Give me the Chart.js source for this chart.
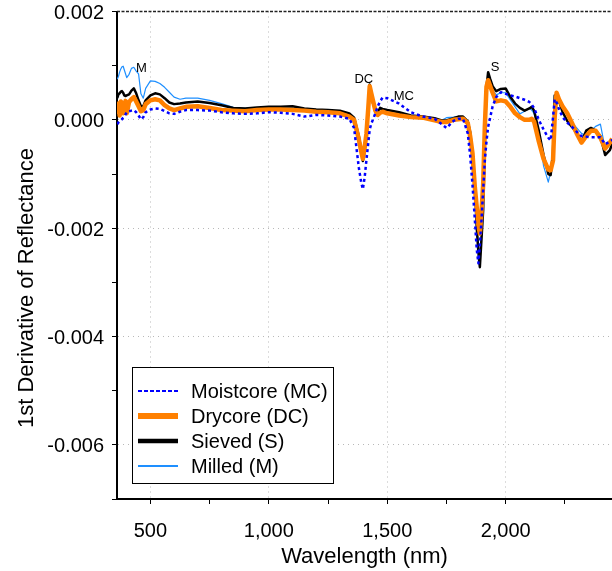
<!DOCTYPE html>
<html>
<head>
<meta charset="utf-8">
<script src="https://cdn.jsdelivr.net/npm/chart.js@4.4.0/dist/chart.umd.min.js"></script>
<style>
  html, body { margin: 0; padding: 0; background: #fff; }
  #wrap { width: 612px; height: 571px; }
</style>
</head>
<body>
<div id="wrap"><canvas id="spectra" width="612" height="571"></canvas></div>
<script>
// wavelength grid (nm) shared by all four preparations
const wavelength = [
  360, 365, 370, 375, 380, 385, 390, 395, 400, 410,
  420, 430, 440, 450, 460, 470, 480, 500, 520, 540,
  560, 580, 600, 625, 650, 700, 750, 800, 850, 900,
  950, 1000, 1050, 1100, 1150, 1200, 1250, 1300, 1340, 1360,
  1380, 1390, 1397, 1405, 1412, 1420, 1426, 1432, 1440, 1450,
  1460, 1470, 1480, 1500, 1550, 1600, 1650, 1700, 1730, 1750,
  1780, 1800, 1820, 1840, 1850, 1860, 1870, 1878, 1885, 1891,
  1898, 1905, 1912, 1919, 1926, 1935, 1945, 1960, 1980, 2000,
  2020, 2040, 2060, 2080, 2100, 2110, 2120, 2140, 2160, 2180,
  2190, 2200, 2207, 2215, 2225, 2240, 2260, 2280, 2300, 2320,
  2340, 2360, 2380, 2400, 2420, 2440, 2450
];

// first derivative of reflectance, in units of 1e-3
const moistcore = [
  -0.08, -0.05, -0.03, -0.01, 0.01, 0.04, 0.06, 0.10, 0.14, 0.16,
  0.17, 0.18, 0.14, 0.08, 0.01, 0.05, 0.14, 0.19, 0.21, 0.20,
  0.16, 0.12, 0.11, 0.15, 0.18, 0.18, 0.17, 0.14, 0.12, 0.11,
  0.12, 0.14, 0.13, 0.11, 0.06, 0.09, 0.08, 0.06, 0.02, -0.15,
  -0.88, -1.15, -1.28, -1.05, -0.75, -0.42, -0.18, -0.08, 0.01, 0.12,
  0.25, 0.34, 0.41, 0.40, 0.30, 0.14, 0.06, 0.02, -0.08, -0.15,
  -0.02, 0.02, 0.02, -0.25, -0.65, -1.20, -1.85, -2.40, -2.65, -2.30,
  -1.85, -1.30, -0.75, -0.40, -0.13, 0.05, 0.25, 0.42, 0.51, 0.48,
  0.45, 0.43, 0.40, 0.37, 0.33, 0.28, 0.22, 0.00, -0.18, -0.33,
  -0.38, 0.05, 0.38, 0.32, 0.20, 0.05, -0.05, -0.13, -0.22, -0.30,
  -0.31, -0.32, -0.32, -0.32, -0.45, -0.40, -0.37
];
const drycore = [
  0.10, 0.30, 0.08, 0.34, 0.30, 0.12, 0.22, 0.35, 0.12, 0.33,
  0.38, 0.42, 0.34, 0.25, 0.16, 0.18, 0.29, 0.36, 0.38, 0.36,
  0.27, 0.21, 0.18, 0.21, 0.24, 0.25, 0.22, 0.18, 0.17, 0.16,
  0.18, 0.19, 0.19, 0.18, 0.17, 0.15, 0.14, 0.12, 0.06, 0.00,
  -0.36, -0.58, -0.72, -0.50, -0.26, 0.22, 0.62, 0.50, 0.35, 0.17,
  0.09, 0.13, 0.15, 0.12, 0.08, 0.05, 0.04, -0.01, -0.04, -0.04,
  0.00, 0.01, 0.02, -0.06, -0.30, -0.62, -1.25, -1.62, -1.95, -2.10,
  -1.70, -1.20, -0.13, 0.61, 0.73, 0.62, 0.50, 0.34, 0.36, 0.34,
  0.24, 0.12, 0.05, 0.00, 0.00, 0.02, -0.03, -0.40, -0.72, -0.92,
  -0.93, -0.75, 0.05, 0.50, 0.38, 0.25, 0.12, -0.06, -0.25, -0.42,
  -0.30, -0.20, -0.20, -0.33, -0.53, -0.42, -0.35
];
const sieved = [
  0.40, 0.47, 0.49, 0.52, 0.53, 0.50, 0.45, 0.44, 0.45, 0.47,
  0.54, 0.58, 0.49, 0.36, 0.25, 0.25, 0.36, 0.45, 0.49, 0.47,
  0.40, 0.32, 0.29, 0.30, 0.32, 0.34, 0.31, 0.27, 0.22, 0.21,
  0.23, 0.24, 0.24, 0.25, 0.21, 0.19, 0.18, 0.17, 0.12, 0.04,
  -0.30, -0.55, -0.76, -0.55, -0.26, 0.25, 0.65, 0.50, 0.30, 0.20,
  0.14, 0.22, 0.20, 0.18, 0.14, 0.08, 0.06, 0.03, -0.01, -0.01,
  0.03, 0.06, 0.06, -0.03, -0.22, -0.65, -1.24, -2.00, -2.45, -2.72,
  -2.20, -1.67, -0.44, 0.61, 0.88, 0.75, 0.62, 0.53, 0.57, 0.58,
  0.42, 0.30, 0.22, 0.17, 0.21, 0.24, 0.17, -0.20, -0.65, -1.00,
  -1.02, -0.60, 0.45, 0.45, 0.35, 0.15, -0.02, -0.13, -0.25, -0.41,
  -0.20, -0.15, -0.20, -0.30, -0.65, -0.56, -0.44
];
const milled = [
  0.75, 0.80, 0.88, 0.94, 0.98, 0.99, 0.92, 0.85, 0.78, 0.84,
  0.95, 0.97, 0.90, 0.85, 0.48, 0.40, 0.58, 0.72, 0.71, 0.67,
  0.60, 0.51, 0.42, 0.38, 0.40, 0.40, 0.36, 0.30, 0.23, 0.21,
  0.22, 0.23, 0.23, 0.25, 0.20, 0.18, 0.17, 0.16, 0.10, 0.03,
  -0.32, -0.57, -0.74, -0.52, -0.24, 0.22, 0.60, 0.46, 0.28, 0.18,
  0.14, 0.20, 0.19, 0.17, 0.13, 0.08, 0.05, 0.02, -0.01, 0.04,
  0.05, 0.06, 0.05, -0.04, -0.25, -0.65, -1.20, -1.95, -2.35, -2.55,
  -2.05, -1.50, -0.40, 0.55, 0.80, 0.65, 0.55, 0.46, 0.50, 0.50,
  0.37, 0.24, 0.11, 0.16, 0.21, 0.18, 0.12, -0.20, -0.85, -1.15,
  -0.95, -0.55, 0.15, 0.42, 0.32, 0.27, 0.10, -0.05, -0.15, -0.25,
  -0.30, -0.20, -0.12, -0.08, -0.53, -0.45, -0.40
];

const xTickValues = [500, 750, 1000, 1250, 1500, 1750, 2000, 2250];
const xTickLabelled = [500, 1000, 1500, 2000];
const yTickValues = [-0.007, -0.006, -0.005, -0.004, -0.003, -0.002, -0.001, 0, 0.001, 0.002];
const yTickLabelled = [-0.006, -0.004, -0.002, 0, 0.002];

// short tags written next to the peaks
const peakTags = [
  { text: 'M',  x: 462,  y: 0.00094 },
  { text: 'DC', x: 1401, y: 0.00074 },
  { text: 'MC', x: 1570, y: 0.00043 },
  { text: 'S',  x: 1955, y: 0.00096 }
];

const toPoints = vals => wavelength.map((w, i) => ({ x: w, y: vals[i] / 1000 }));
const isIn = (list, v) => list.some(t => Math.abs(t - v) < 1e-9);

Chart.defaults.font.family = '"Liberation Sans", Arial, sans-serif';
Chart.defaults.color = '#000';

const extras = {
  id: 'extras',
  afterDraw(chart) {
    const { ctx, chartArea, scales } = chart;
    ctx.save();

    // dashed frame line along the top
    ctx.strokeStyle = '#222';
    ctx.lineWidth = 1.5;
    ctx.setLineDash([3, 1.5]);
    ctx.beginPath();
    ctx.moveTo(chartArea.left, chartArea.top);
    ctx.lineTo(chartArea.right, chartArea.top);
    ctx.stroke();
    ctx.setLineDash([]);

    // peak tags
    ctx.fillStyle = '#000';
    ctx.font = '13px "Liberation Sans", Arial, sans-serif';
    ctx.textAlign = 'center';
    ctx.textBaseline = 'middle';
    peakTags.forEach(t => {
      ctx.fillText(t.text, scales.x.getPixelForValue(t.x), scales.y.getPixelForValue(t.y));
    });

    // y axis title
    ctx.save();
    ctx.translate(27, 288);
    ctx.rotate(-Math.PI / 2);
    ctx.font = '22px "Liberation Sans", Arial, sans-serif';
    ctx.fillText('1st Derivative of Reflectance', 0, 0);
    ctx.restore();

    // legend
    const box = { x: 132.5, y: 367.5, w: 201, h: 116 };
    ctx.fillStyle = '#fff';
    ctx.fillRect(box.x, box.y, box.w, box.h);
    ctx.strokeStyle = '#000';
    ctx.lineWidth = 1;
    ctx.strokeRect(box.x, box.y, box.w, box.h);
    ctx.font = '20px "Liberation Sans", Arial, sans-serif';
    ctx.textAlign = 'left';
    chart.data.datasets.forEach((ds, i) => {
      const y = 391 + i * 25;
      ctx.strokeStyle = ds.borderColor;
      ctx.lineWidth = ds.legendWidth;
      ctx.setLineDash(ds.legendDash || []);
      ctx.beginPath();
      ctx.moveTo(138, y);
      ctx.lineTo(178, y);
      ctx.stroke();
      ctx.setLineDash([]);
      ctx.fillStyle = '#000';
      ctx.fillText(ds.label, 191, y + 1);
    });

    ctx.restore();
  }
};

new Chart(document.getElementById('spectra'), {
  type: 'line',
  data: {
    datasets: [
      {
        label: 'Moistcore (MC)',
        data: toPoints(moistcore),
        borderColor: '#0000ff',
        borderWidth: 2.5,
        borderDash: [3, 3],
        legendWidth: 2,
        legendDash: [4, 2],
        order: 0
      },
      {
        label: 'Drycore (DC)',
        data: toPoints(drycore),
        borderColor: '#ff8000',
        borderWidth: 4.5,
        legendWidth: 6,
        order: 1
      },
      {
        label: 'Sieved (S)',
        data: toPoints(sieved),
        borderColor: '#000000',
        borderWidth: 2.5,
        legendWidth: 4.5,
        order: 2
      },
      {
        label: 'Milled (M)',
        data: toPoints(milled),
        borderColor: '#1e8fff',
        borderWidth: 1.2,
        legendWidth: 2,
        order: 3
      }
    ]
  },
  options: {
    responsive: false,
    animation: false,
    devicePixelRatio: 1,
    layout: { padding: { top: 11.5, right: 0, bottom: 0, left: 0 } },
    elements: {
      point: { radius: 0 },
      line: { tension: 0, borderCapStyle: 'butt', borderJoinStyle: 'round' }
    },
    plugins: {
      legend: { display: false },
      tooltip: { enabled: false }
    },
    scales: {
      x: {
        type: 'linear',
        min: 359,
        max: 2449,
        afterBuildTicks: s => { s.ticks = xTickValues.map(v => ({ value: v })); },
        afterFit: s => { s.height = 72; s.paddingLeft = 0; s.paddingRight = 0; },
        ticks: {
          autoSkip: false,
          maxRotation: 0,
          padding: 15,
          font: { size: 20 },
          callback: v => isIn(xTickLabelled, v) ? v.toLocaleString('en-US') : ''
        },
        grid: {
          color: c => isIn(xTickLabelled, c.tick.value) ? '#b8b8b8' : 'rgba(0,0,0,0)',
          tickColor: '#000',
          tickLength: 5,
          lineWidth: 1
        },
        border: { display: true, color: '#000', width: 2, dash: [1, 4] },
        title: {
          display: true,
          text: 'Wavelength (nm)',
          font: { size: 22 },
          padding: { top: 0, bottom: 1 }
        }
      },
      y: {
        min: -0.007,
        max: 0.002,
        afterBuildTicks: s => { s.ticks = yTickValues.map(v => ({ value: v })); },
        afterFit: s => { s.width = 117; s.paddingTop = 0; s.paddingBottom = 0; },
        ticks: {
          autoSkip: false,
          padding: 8,
          labelOffset: 2,
          font: { size: 20 },
          callback: v => isIn(yTickLabelled, v) ? v.toFixed(3) : ''
        },
        grid: {
          color: c => (isIn(yTickLabelled, c.tick.value) && c.tick.value < 0.0015) ? '#b8b8b8' : 'rgba(0,0,0,0)',
          tickColor: '#000',
          tickLength: 5,
          lineWidth: 1
        },
        border: { display: true, color: '#000', width: 2, dash: [1, 4] }
      }
    }
  },
  plugins: [extras]
});
</script>
</body>
</html>
